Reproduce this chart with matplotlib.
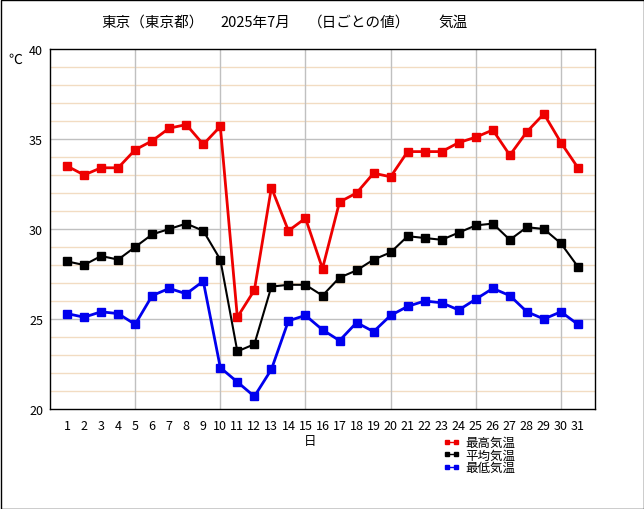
import numpy as np
import matplotlib
matplotlib.use("Agg")
import matplotlib.pyplot as plt
from matplotlib.patches import Rectangle

plt.rcParams['font.family'] = ['Noto Sans CJK JP', 'DejaVu Sans']

# 日ごとの値 (2025年7月, 東京)
days = list(range(1, 32))
t_max = [33.5, 33.0, 33.4, 33.4, 34.4, 34.9, 35.6, 35.8, 34.7, 35.7,
         25.1, 26.6, 32.3, 29.9, 30.6, 27.8, 31.5, 32.0, 33.1, 32.9,
         34.3, 34.3, 34.3, 34.8, 35.1, 35.5, 34.1, 35.4, 36.4, 34.8, 33.4]
t_avg = [28.2, 28.0, 28.5, 28.3, 29.0, 29.7, 30.0, 30.3, 29.9, 28.3,
         23.2, 23.6, 26.8, 26.9, 26.9, 26.3, 27.3, 27.7, 28.3, 28.7,
         29.6, 29.5, 29.4, 29.8, 30.2, 30.3, 29.4, 30.1, 30.0, 29.2, 27.9]
t_min = [25.3, 25.1, 25.4, 25.3, 24.7, 26.3, 26.7, 26.4, 27.1, 22.3,
         21.5, 20.7, 22.2, 24.9, 25.2, 24.4, 23.8, 24.8, 24.3, 25.2,
         25.7, 26.0, 25.9, 25.5, 26.1, 26.7, 26.3, 25.4, 25.0, 25.4, 24.7]
labels = ['最高気温', '平均気温', '最低気温']
colors = ['#ee0000', '#000000', '#0000ee']
widths = [2.0, 1.5, 2.0]

W, H = 644, 510
fig = plt.figure(figsize=(W / 100, H / 100), dpi=100)
fig.patch.set_facecolor('white')
ax = fig.add_axes([50 / W, 1 - 410 / H, 545 / W, 360 / H])

# 罫線
ax.set_xlim(0, 32)
ax.set_ylim(20, 40)
ax.set_yticks([20, 25, 30, 35, 40])
ax.set_xticks(days)
ax.grid(False)
for y in range(21, 40):
    c = '#c0c0c0' if y % 5 == 0 else '#f2dcc2'
    ax.axhline(y, color=c, lw=1, zorder=0)
for d in [5, 10, 15, 20, 25, 30]:
    ax.axvline(d, color='#c0c0c0', lw=1, zorder=0)

for vals, lab, c, w in zip([t_max, t_avg, t_min], labels, colors, widths):
    ax.plot(days, vals, color=c, lw=w, marker='s', markersize=5.2,
            label=lab, zorder=3)

ax.tick_params(axis='both', which='both', length=0, labelsize=9)
ax.tick_params(axis='x', pad=7)
ax.tick_params(axis='y', pad=5)
for s in ax.spines.values():
    s.set_color('black')
    s.set_linewidth(1)

# タイトル
fig.text(101 / W, 1 - 23 / H, '東京（東京都）', fontsize=10.5, ha='left', va='center')
fig.text(220 / W, 1 - 23 / H, '2025年7月', fontsize=10.5, ha='left', va='center')
fig.text(308 / W, 1 - 23 / H, '（日ごとの値）', fontsize=10.5, ha='left', va='center')
fig.text(438 / W, 1 - 23 / H, '気温', fontsize=10.5, ha='left', va='center')

fig.text(15 / W, 1 - 60 / H, '℃', fontsize=10, ha='center', va='center')
fig.text(310 / W, 1 - 442 / H, '日', fontsize=9, ha='center', va='center')

leg = fig.legend(loc='upper left', bbox_to_anchor=(437 / W, 1 - 431 / H),
                 frameon=False, fontsize=9, numpoints=2, markerscale=0.5,
                 handlelength=1.3, handletextpad=0.5, labelspacing=-0.05,
                 borderpad=0)
for h in leg.legend_handles:
    h.set_linewidth(1)

fig.add_artist(Rectangle((0.5 / W, 0.5 / H), (W - 1) / W, (H - 1) / H,
                         transform=fig.transFigure, fill=False,
                         edgecolor='black', lw=1))

fig.savefig('out.png', dpi=100)
